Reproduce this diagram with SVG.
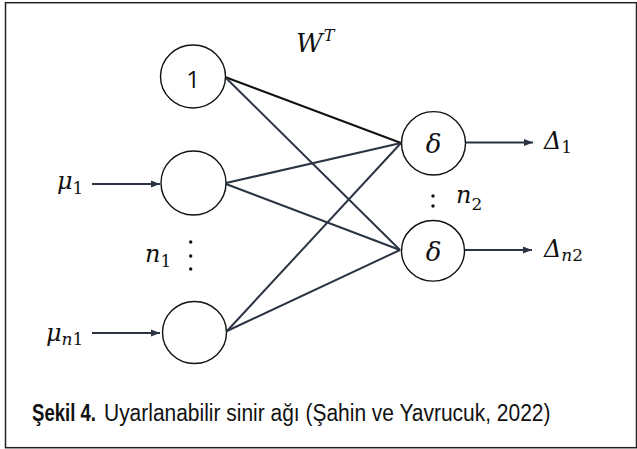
<svg xmlns="http://www.w3.org/2000/svg" width="637" height="449" viewBox="0 0 637 449">
<defs>
<marker id="ah" markerUnits="userSpaceOnUse" markerWidth="10" markerHeight="8" refX="9" refY="4" orient="auto">
<path d="M0,0.5 L9,4 L0,7.5 z" fill="#2b3442"/>
</marker>
</defs>
<style>
.node{fill:#fff;stroke:#111;stroke-width:1.4}
.edge{stroke:#2b3442;stroke-width:2;fill:none}
.arr{stroke:#2b3442;stroke-width:2;fill:none;marker-end:url(#ah)}
.m{font-family:"DejaVu Serif","Liberation Serif",serif;font-style:italic;fill:#111}
.sub{font-family:"DejaVu Serif","Liberation Serif",serif;font-style:normal;fill:#111}
.cap{font-family:"Liberation Sans",Arial,sans-serif;font-size:24px;fill:#111}
</style>
<rect x="0" y="0" width="637" height="449" fill="#fff"/>
<rect x="5.5" y="2.7" width="631" height="445" fill="none" stroke="#222" stroke-width="1.5"/>
<g id="connectors">
<line class="edge" x1="225" y1="77" x2="401" y2="143" style="stroke:#111"/>
<line class="edge" x1="225" y1="77" x2="400" y2="250"/>
<line class="edge" x1="226" y1="183" x2="401" y2="143"/>
<line class="edge" x1="226" y1="184" x2="400" y2="250"/>
<line class="edge" x1="227" y1="331" x2="401" y2="143"/>
<line class="edge" x1="227" y1="331" x2="400" y2="250"/>
<line class="arr" x1="92" y1="184" x2="160" y2="184"/>
<line class="arr" x1="92" y1="333" x2="160" y2="333"/>
<line class="arr" x1="466" y1="142.5" x2="533" y2="142.5"/>
<line class="arr" x1="465" y1="250" x2="532" y2="250"/>
</g>
<g id="bias">
<ellipse class="node" cx="193" cy="76.5" rx="32.5" ry="31.5"/>
<text x="193" y="87.5" text-anchor="middle" font-family="'Open Sans','Liberation Sans',sans-serif" font-size="24" fill="#111">1</text>
</g>
<g id="in1">
<ellipse class="node" cx="193.5" cy="183" rx="32.5" ry="32"/>
</g>
<g id="inn1">
<ellipse class="node" cx="194.5" cy="332.5" rx="32" ry="31"/>
</g>
<g id="out1">
<ellipse class="node" cx="433.5" cy="143.3" rx="32" ry="31.7"/>
<text class="m" x="433.5" y="153" text-anchor="middle" font-size="26">δ</text>
</g>
<g id="out2">
<ellipse class="node" cx="433" cy="250.8" rx="31.5" ry="30.3"/>
<text class="m" x="433.5" y="260.5" text-anchor="middle" font-size="26">δ</text>
</g>
<g id="labels">
<text class="m" x="296" y="52" font-size="26">W<tspan font-size="16" dy="-11" dx="1">T</tspan></text>
<text class="m" x="57" y="189" font-size="24">μ<tspan class="sub" font-size="17" dy="5">1</tspan></text>
<text class="m" x="46" y="341" font-size="24">μ<tspan font-size="17" dy="4">n</tspan><tspan class="sub" font-size="17">1</tspan></text>
<text class="m" x="145" y="262" font-size="24">n<tspan class="sub" font-size="17" dy="5">1</tspan></text>
<g fill="#111"><circle cx="190.7" cy="242" r="1.7"/><circle cx="190.7" cy="256" r="1.7"/><circle cx="190.7" cy="269" r="1.7"/></g>
<g fill="#111"><circle cx="433" cy="196" r="1.7"/><circle cx="433" cy="206" r="1.7"/></g>
<text class="m" x="456" y="203" font-size="24">n<tspan class="sub" font-size="17" dy="7">2</tspan></text>
<text class="m" x="544" y="148.5" font-size="24">Δ<tspan class="sub" font-size="17" dy="4">1</tspan></text>
<text class="m" x="544" y="257" font-size="24">Δ<tspan font-size="17" dy="4">n</tspan><tspan class="sub" font-size="17">2</tspan></text>
</g>
<g id="caption">
<text class="cap" transform="translate(32,421) scale(0.774,1)" font-weight="bold">Şekil 4.</text>
<text class="cap" transform="translate(104,421) scale(0.874,1)">Uyarlanabilir sinir ağı (Şahin ve Yavrucuk, 2022)</text>
</g>
</svg>
